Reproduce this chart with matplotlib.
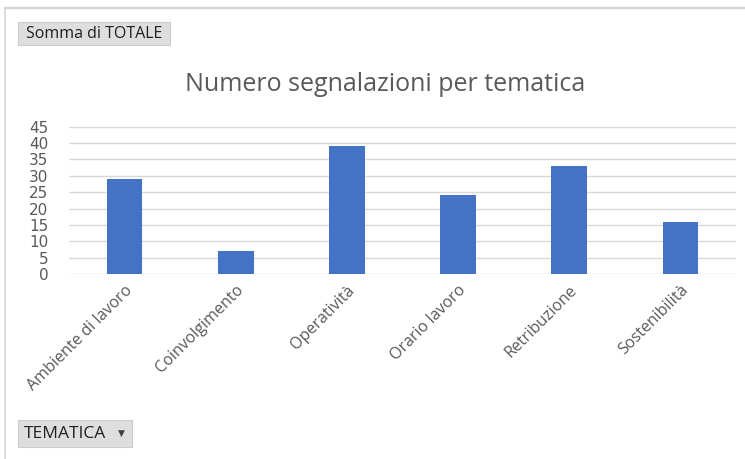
import matplotlib
matplotlib.use("Agg")
import matplotlib.pyplot as plt
from matplotlib.patches import Rectangle
from matplotlib.lines import Line2D

# dati
tematiche = ["Ambiente di lavoro", "Coinvolgimento", "Operatività",
             "Orario lavoro", "Retribuzione", "Sostenibilità"]
totale = [29, 7, 39, 24, 33, 16]
yticks = [0, 5, 10, 15, 20, 25, 30, 35, 40, 45]

W, H = 745, 459
fig = plt.figure(figsize=(W / 100, H / 100), dpi=100)

def fx(px):
    return px / W

def fy(py):
    return 1 - py / H

# bordo esterno (solo sopra e a sinistra visibili)
fig.add_artist(Line2D([fx(5), 1], [fy(7.5), fy(7.5)], color="#d4d4d4", lw=1.6))
fig.add_artist(Line2D([fx(5), fx(5)], [fy(7.5), 0], color="#d4d4d4", lw=1.2))

ax = fig.add_axes([fx(69), fy(274), fx(736) - fx(69), fy(126.7) - fy(274)])
x = range(len(tematiche))
ax.bar(x, totale, width=0.32, color="#4472C4", zorder=3)
ax.set_xlim(-0.5, len(tematiche) - 0.5)
ax.set_ylim(0, 45)
ax.set_yticks(yticks)
ax.yaxis.grid(True, color="#d9d9d9", lw=1.0, zorder=0)
ax.set_axisbelow(True)
for s in ax.spines.values():
    s.set_visible(False)
ax.tick_params(axis="y", length=0, pad=15, labelsize=11, labelcolor="#595959")
ax.tick_params(axis="x", length=0, pad=6)
ax.set_xticks(list(x))
ax.set_xticklabels(tematiche, rotation=45, ha="right", rotation_mode="anchor",
                   fontsize=11.5, color="#595959", family="Open Sans")
for lab in ax.get_yticklabels():
    lab.set_family("DejaVu Sans")

fig.text(fx(385.5), fy(85), "Numero segnalazioni per tematica", ha="center",
         va="center", fontsize=18, color="#595959", family="Open Sans")

# pulsanti del grafico pivot
fig.add_artist(Rectangle((fx(18), fy(45)), fx(170) - fx(18), fy(22) - fy(45),
                         facecolor="#dedede", edgecolor="#cccccc", lw=0.8))
fig.text(fx(94), fy(34), "Somma di TOTALE", ha="center", va="center",
         fontsize=11.5, color="#202020", family="Open Sans")

fig.add_artist(Rectangle((fx(18), fy(447)), fx(132) - fx(18), fy(420) - fy(447),
                         facecolor="#dedede", edgecolor="#cccccc", lw=0.8))
fig.text(fx(24), fy(434), "TEMATICA", ha="left", va="center",
         fontsize=12.5, color="#202020", family="Open Sans")
fig.text(fx(121), fy(433.5), "\u25bc", ha="center", va="center",
         fontsize=6.5, color="#404040", family="DejaVu Sans")

fig.savefig("out.png", dpi=100)
